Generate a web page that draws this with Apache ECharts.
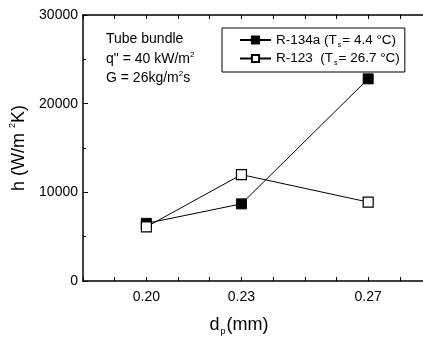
<!DOCTYPE html>
<html>
<head>
<meta charset="utf-8">
<script src="https://cdn.jsdelivr.net/npm/echarts@6/dist/echarts.min.js"></script>
<style>
html,body{margin:0;padding:0;background:#fff;}
#c{width:423px;height:338px;}
</style>
</head>
<body>
<div id="c"></div>
<script>
// ---- data ----
const seriesNames = ['R-134a', 'R-123'];
const legendTemps = ['4.4', '26.7'];
const xValues = [0.20, 0.23, 0.27];
const r134a = [6500, 8700, 22800];
const r123 = [6100, 12000, 8900];
const xTickLabels = ['0.20', '0.23', '0.27'];
const yTickLabels = ['0', '10000', '20000', '30000'];

const FONT = '"Liberation Sans", Arial, sans-serif';
const chart = echarts.init(document.getElementById('c'), null, {renderer: 'canvas'});

const richBase = {
  t: {fontFamily: FONT, fontSize: 14, color: '#000', lineHeight: 17},
  sub: {fontFamily: FONT, fontSize: 7, color: '#000', lineHeight: 17, verticalAlign: 'bottom', padding: [7, 0, 0, 0]},
  sup: {fontFamily: FONT, fontSize: 8, color: '#000', lineHeight: 17, verticalAlign: 'top', padding: [0, 0, 7, 0]}
};
const richLegend = {
  t: {fontFamily: FONT, fontSize: 13.5, color: '#000', lineHeight: 17},
  sub: {fontFamily: FONT, fontSize: 7, color: '#000', lineHeight: 17, verticalAlign: 'bottom', padding: [7, 1, 0, 1]}
};

function pairs(xs, ys) { return xs.map((x, i) => [x, ys[i]]); }

const option = {
  animation: false,
  backgroundColor: '#fff',
  grid: {left: 83, top: 15, right: 0, bottom: 57, containLabel: false, outerBoundsMode: 'none'},
  legend: {
    orient: 'vertical',
    left: 222, top: 28,
    padding: [5, 5, 5, 17],
    itemGap: 3,
    itemWidth: 31, itemHeight: 9,
    borderColor: '#000', borderWidth: 1,
    data: seriesNames,
    formatter: function (name) {
      const i = seriesNames.indexOf(name);
      const label = i === 0 ? name + ' ' : name + '  ';
      return '{t|' + label + '(T}{sub|s}{t|= ' + legendTemps[i] + ' °C)}';
    },
    textStyle: {rich: richLegend, fontFamily: FONT, fontSize: 13.5, color: '#000'}
  },
  xAxis: [{
    type: 'value', min: 0.18, max: 0.2873, interval: 0.01,
    position: 'bottom',
    axisLine: {show: true, onZero: false, lineStyle: {color: '#000', width: 1.5}},
    axisTick: {show: true, inside: true, length: 4, lineStyle: {color: '#000', width: 1}},
    splitLine: {show: false},
    axisLabel: {
      color: '#000', fontFamily: FONT, fontSize: 14, margin: 9,
      showMaxLabel: false,
      formatter: function (v) {
        const s = (Math.round(v * 100) / 100).toFixed(2);
        return xTickLabels.indexOf(s) >= 0 ? s : '';
      }
    },
    name: '{a|d}{s|p}{a|(mm)}',
    nameLocation: 'middle', nameGap: 33,
    nameTextStyle: {
      padding: [0, 28, 0, 0],
      rich: {
        a: {fontFamily: FONT, fontSize: 18, color: '#000', lineHeight: 22},
        s: {fontFamily: FONT, fontSize: 9, color: '#000', lineHeight: 22, verticalAlign: 'bottom', padding: [9, 1, 0, 1]}
      }
    }
  }, {
    type: 'value', min: 0.18, max: 0.2873, interval: 0.01,
    position: 'top',
    axisLine: {show: true, onZero: false, lineStyle: {color: '#000', width: 1.5}},
    axisTick: {show: true, inside: true, length: 4, lineStyle: {color: '#000', width: 1}},
    axisLabel: {show: false},
    splitLine: {show: false}
  }],
  yAxis: [{
    type: 'value', min: 0, max: 30000, interval: 10000,
    axisLine: {show: true, onZero: false, lineStyle: {color: '#000', width: 1.5}},
    axisTick: {show: true, inside: true, length: 5, lineStyle: {color: '#000', width: 1}},
    minorTick: {show: true, splitNumber: 2, length: 3, lineStyle: {color: '#000', width: 1}},
    splitLine: {show: false},
    axisLabel: {
      color: '#000', fontFamily: FONT, fontSize: 14, margin: 5,
      formatter: function (v) { const s = String(v); return yTickLabels.indexOf(s) >= 0 ? s : ''; }
    },
    name: '{a|h (W/m }{s|2}{a|K)}',
    nameLocation: 'middle', nameRotate: 90, nameGap: 52,
    nameTextStyle: {
      rich: {
        a: {fontFamily: FONT, fontSize: 18, color: '#000', lineHeight: 22},
        s: {fontFamily: FONT, fontSize: 9, color: '#000', lineHeight: 22, verticalAlign: 'top', padding: [0, 0, 9, 0]}
      }
    }
  }],
  graphic: [{
    type: 'text', left: 106, top: 32,
    style: {text: 'Tube bundle', font: '14px ' + FONT, fill: '#000'}
  }, {
    type: 'text', left: 106, top: 51,
    style: {
      text: '{t|q" = 40 kW/m}{sup|2}',
      rich: richBase
    }
  }, {
    type: 'text', left: 106, top: 70,
    style: {
      text: '{t|G = 26kg/m}{sup|2}{t|s}',
      rich: richBase
    }
  }],
  series: [{
    name: seriesNames[0], type: 'line',
    data: pairs(xValues, r134a),
    symbol: 'rect', symbolSize: 10,
    lineStyle: {color: '#000', width: 1},
    itemStyle: {color: '#000', borderColor: '#000', borderWidth: 1},
    z: 2
  }, {
    name: seriesNames[1], type: 'line',
    data: pairs(xValues, r123),
    symbol: 'rect', symbolSize: 10,
    lineStyle: {color: '#000', width: 1},
    itemStyle: {color: '#fff', borderColor: '#000', borderWidth: 1.2},
    z: 3
  }]
};
chart.setOption(option);
</script>
</body>
</html>
